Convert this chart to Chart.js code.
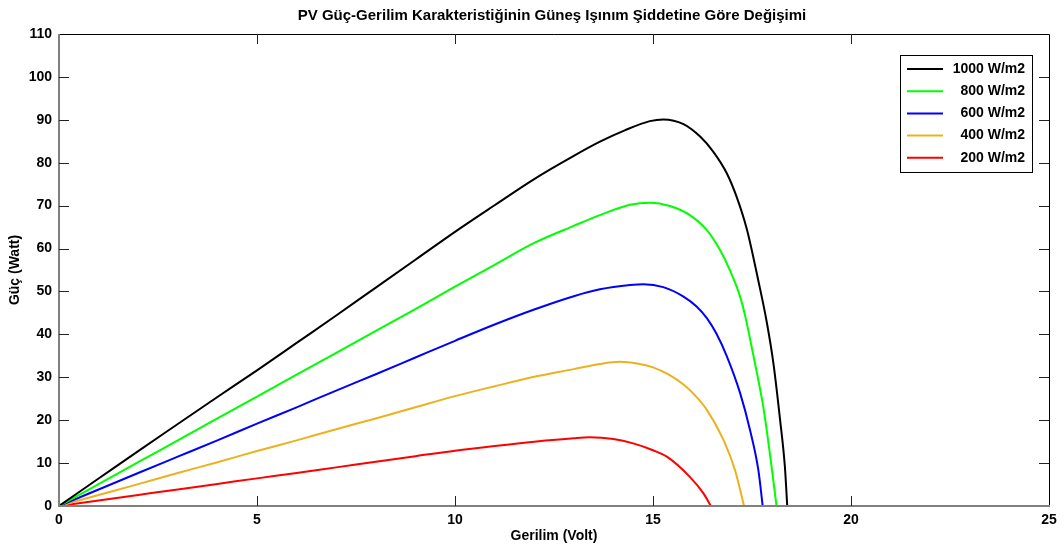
<!DOCTYPE html>
<html>
<head>
<meta charset="utf-8">
<script src="https://cdn.jsdelivr.net/npm/chart.js@4/dist/chart.umd.min.js"></script>
<style>
    html, body { margin: 0; padding: 0; background: #ffffff; }
    #wrap { width: 1064px; height: 551px; }
</style>
</head>
<body>
<div id="wrap"><canvas id="myChart" width="1064" height="551"></canvas></div>
<script>
'use strict';

let chartTitle = 'PV Güç-Gerilim Karakteristiğinin Güneş Işınım Şiddetine Göre Değişimi';
let xTitle = 'Gerilim (Volt)';
let yTitle = 'Güç (Watt)';
let xTicks = [0, 5, 10, 15, 20, 25];
let yTicks = [0, 10, 20, 30, 40, 50, 60, 70, 80, 90, 100, 110];

let seriesLabels = ['1000 W/m2', '800 W/m2', '600 W/m2', '400 W/m2', '200 W/m2'];
let seriesColors = ['#000000', '#00ff00', '#0000ff', '#edb120', '#ff0000'];

// voltage (V) and power (W), one pair per irradiance
let volt1000 = [0, 1, 2, 3, 4, 5, 6, 7, 8, 9, 10, 11, 12, 13, 13.66, 14.3, 14.92, 15.26, 15.77, 16.19, 16.52, 16.86, 17.11, 17.37, 17.66, 17.87, 18.04, 18.21, 18.33, 18.39];
let power1000 = [0, 6.4, 12.8, 19.1, 25.4, 31.6, 38.0, 44.4, 50.9, 57.4, 63.9, 70.1, 76.2, 81.6, 84.9, 87.6, 89.7, 90.1, 89.0, 86.1, 82.6, 77.6, 72.1, 64.5, 52.5, 43.0, 33.3, 20.0, 9.2, 0];

let volt800 = [0, 1, 2, 3, 4, 5, 6, 7, 8, 9, 10, 11, 12, 13, 13.66, 14.42, 14.92, 15.43, 15.93, 16.36, 16.69, 16.94, 17.2, 17.32, 17.53, 17.79, 17.95, 18.12];
let power800 = [0, 5.1, 10.2, 15.3, 20.4, 25.5, 30.6, 35.7, 40.8, 45.9, 51.1, 56.2, 61.3, 65.3, 67.8, 70.2, 70.7, 69.9, 67.8, 64.3, 59.7, 55.0, 48.8, 44.6, 35.3, 22.8, 12.3, 0];

let volt600 = [0, 1, 2, 3, 4, 5, 6, 7, 8, 9, 10, 11, 12, 13, 13.66, 14.42, 14.76, 15.26, 15.77, 16.1, 16.36, 16.6, 16.86, 17.2, 17.45, 17.66, 17.77];
let power600 = [0, 3.85, 7.7, 11.5, 15.3, 19.2, 23.0, 26.9, 30.7, 34.6, 38.5, 42.3, 45.8, 48.9, 50.5, 51.5, 51.7, 51.0, 48.8, 46.5, 43.8, 40.2, 35.0, 26.3, 17.7, 8.4, 0];

let volt400 = [0, 1, 2, 3, 4, 5, 6, 7, 8, 9, 10, 11, 12, 13, 13.66, 14.17, 14.6, 15.0, 15.4, 15.77, 16.05, 16.36, 16.78, 17.07, 17.3];
let power400 = [0, 2.56, 5.1, 7.7, 10.2, 12.8, 15.3, 17.9, 20.4, 23.0, 25.6, 27.9, 30.1, 31.9, 33.1, 33.6, 33.2, 32.3, 30.6, 28.3, 25.9, 22.4, 15.4, 8.4, 0];

let volt200 = [0, 1, 2, 3, 4, 5, 6, 7, 8, 9, 10, 11, 12, 13, 13.4, 14.0, 14.5, 15.0, 15.35, 15.93, 16.27, 16.46];
let power200 = [0, 1.29, 2.58, 3.87, 5.15, 6.44, 7.7, 9.0, 10.3, 11.6, 12.9, 14.0, 15.0, 15.8, 16.0, 15.6, 14.6, 13.0, 11.5, 6.8, 3.0, 0];

let allVolts = [volt1000, volt800, volt600, volt400, volt200];
let allPowers = [power1000, power800, power600, power400, power200];

function makePoints(volts, powers) {
    let points = [];
    for (let i = 0; i < volts.length; i++) {
        points.push({ x: volts[i], y: powers[i] });
    }
    return points;
}

let datasets = [];
for (let i = 0; i < seriesLabels.length; i++) {
    datasets.push({
        label: seriesLabels[i],
        data: makePoints(allVolts[i], allPowers[i]),
        borderColor: seriesColors[i],
        backgroundColor: seriesColors[i],
        borderWidth: 2,
        pointRadius: 0,
        cubicInterpolationMode: 'monotone',
        fill: false
    });
}

let fontFamily = '"Liberation Sans", Arial, sans-serif';
let boldFont = 'bold 14px ' + fontFamily;

// frame, inward ticks, title and legend, drawn like the original figure
let framePlugin = {
    id: 'frame',
    afterDraw(chart) {
        let ctx = chart.ctx;
        let area = chart.chartArea;
        let xs = chart.scales.x;
        let ys = chart.scales.y;
        ctx.save();

        ctx.strokeStyle = '#000000';
        ctx.lineWidth = 1;
        ctx.beginPath();
        ctx.moveTo(area.left, area.top + 0.5);
        ctx.lineTo(area.right + 0.5, area.top + 0.5);
        ctx.lineTo(area.right + 0.5, area.bottom);
        ctx.stroke();

        ctx.strokeStyle = '#808080';
        ctx.lineWidth = 2;
        ctx.beginPath();
        ctx.moveTo(area.left, area.top);
        ctx.lineTo(area.left, area.bottom);
        ctx.lineTo(area.right + 1, area.bottom);
        ctx.stroke();

        ctx.strokeStyle = '#222222';
        ctx.lineWidth = 1;
        ctx.beginPath();
        for (let i = 1; i < xTicks.length - 1; i++) {
            let px = Math.round(xs.getPixelForValue(xTicks[i])) + 0.5;
            ctx.moveTo(px, area.bottom);
            ctx.lineTo(px, area.bottom - 10);
            ctx.moveTo(px, area.top);
            ctx.lineTo(px, area.top + 10);
        }
        for (let i = 1; i < yTicks.length - 1; i++) {
            let py = Math.round(ys.getPixelForValue(yTicks[i])) + 0.5;
            ctx.moveTo(area.left, py);
            ctx.lineTo(area.left + 10, py);
            ctx.moveTo(area.right, py);
            ctx.lineTo(area.right - 10, py);
        }
        ctx.stroke();

        ctx.fillStyle = '#000000';
        ctx.font = 'bold 15px ' + fontFamily;
        ctx.textAlign = 'center';
        ctx.textBaseline = 'middle';
        ctx.fillText(chartTitle, (area.left + area.right) / 2 - 2, 16);

        // legend box
        let boxLeft = 900, boxTop = 55, boxW = 132, boxH = 117;
        ctx.fillStyle = '#ffffff';
        ctx.fillRect(boxLeft, boxTop, boxW, boxH);
        ctx.strokeStyle = '#000000';
        ctx.lineWidth = 1;
        ctx.strokeRect(boxLeft + 0.5, boxTop + 0.5, boxW, boxH);
        ctx.font = boldFont;
        ctx.textAlign = 'right';
        for (let i = 0; i < chart.data.datasets.length; i++) {
            let ds = chart.data.datasets[i];
            let rowY = boxTop + 14 + i * 22.2;
            ctx.strokeStyle = ds.borderColor;
            ctx.lineWidth = 2;
            ctx.beginPath();
            ctx.moveTo(907, rowY);
            ctx.lineTo(943, rowY);
            ctx.stroke();
            ctx.fillStyle = '#000000';
            ctx.fillText(ds.label, 1025, rowY);
        }
        ctx.restore();
    }
};

let ctx = document.getElementById('myChart').getContext('2d');
let myChart = new Chart(ctx, {
    type: 'line',
    data: { datasets: datasets },
    options: {
        responsive: false,
        animation: false,
        layout: { padding: { top: 34, right: 15, left: 0, bottom: 0 } },
        plugins: {
            legend: { display: false },
            tooltip: { enabled: false }
        },
        scales: {
            x: {
                type: 'linear',
                min: 0,
                max: 25,
                afterFit(scale) { scale.height = 45; },
                afterBuildTicks(scale) { scale.ticks = xTicks.map(v => ({ value: v })); },
                grid: { display: false, drawTicks: false },
                border: { display: false },
                ticks: { color: '#000000', font: { family: fontFamily, size: 14, weight: 'bold' }, padding: 6, maxRotation: 0 },
                title: { display: true, text: xTitle, color: '#000000', font: { family: fontFamily, size: 14, weight: 'bold' }, padding: { top: 0, bottom: 6 } }
            },
            y: {
                min: 0,
                max: 110,
                afterFit(scale) { scale.width = 59; },
                afterBuildTicks(scale) { scale.ticks = yTicks.map(v => ({ value: v })); },
                grid: { display: false, drawTicks: false },
                border: { display: false },
                ticks: { color: '#000000', font: { family: fontFamily, size: 14, weight: 'bold' }, padding: 7 },
                title: { display: true, text: yTitle, color: '#000000', font: { family: fontFamily, size: 14, weight: 'bold' }, padding: { top: 7, bottom: 0 } }
            }
        }
    },
    plugins: [framePlugin]
});
</script>
</body>
</html>
